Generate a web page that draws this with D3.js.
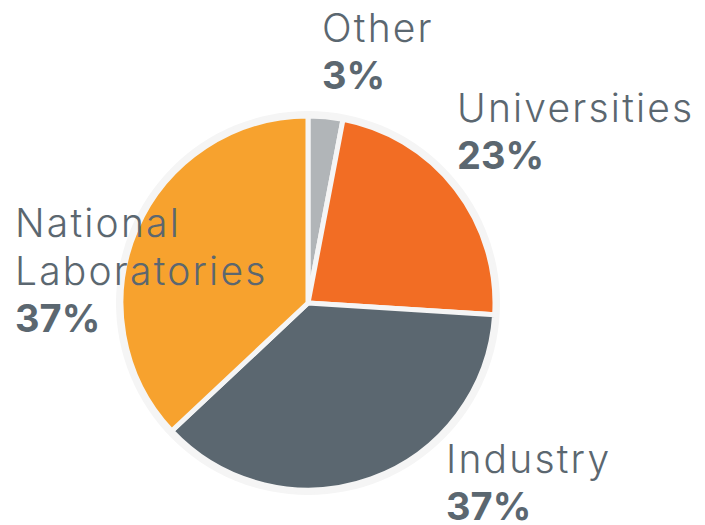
<!DOCTYPE html>
<html>
<head>
<meta charset="utf-8">
<script src="https://cdn.jsdelivr.net/npm/d3@7"></script>
<style>
  body { margin: 0; background: #fff; }
  text { font-family: "Inter", "Lato", sans-serif; fill: #5b6770; }
</style>
</head>
<body>
<div id="chart"></div>
<script>
var categories = ["Other", "Universities", "Industry", "National Laboratories"];
var values = [3, 23, 37, 37];
var colors = ["#b1b5b8", "#f26d24", "#5b6770", "#f7a22e"];
// label lines per category
var labelLines = [["Other"], ["Universities"], ["Industry"], ["National", "Laboratories"]];
var labelPos = [[322, 42], [457, 122], [446, 473], [15, 237]];

var width = 705,
    height = 525;

var svg = d3.select("#chart")
    .append("svg")
    .attr("width", width)
    .attr("height", height);

var data = categories.map(function (c, i) {
    return { name: c, value: values[i], color: colors[i], lines: labelLines[i], pos: labelPos[i] };
});

var cx = 308, cy = 303, radius = 187;

var g = svg.append("g")
    .attr("transform", "translate(" + cx + "," + cy + ")");

g.append("circle")
    .attr("r", radius + 5)
    .attr("fill", "#f5f5f5");

var pie = d3.pie()
    .sort(null)
    .value(function (d) { return d.value; });

var arc = d3.arc()
    .innerRadius(0)
    .outerRadius(radius);

g.selectAll(".slice")
    .data(pie(data))
    .enter().append("path")
    .attr("class", "slice")
    .attr("d", arc)
    .attr("fill", function (d) { return d.data.color; })
    .attr("stroke", "#f5f5f5")
    .attr("stroke-width", 5)
    .attr("stroke-linejoin", "round");

var labels = svg.selectAll(".label")
    .data(data)
    .enter().append("text")
    .attr("class", "label")
    .attr("x", function (d) { return d.pos[0]; })
    .attr("y", function (d) { return d.pos[1]; });

labels.each(function (d) {
    var t = d3.select(this);
    d.lines.forEach(function (line, i) {
        t.append("tspan")
            .attr("x", d.pos[0])
            .attr("dy", i === 0 ? 0 : 48)
            .attr("font-size", 39)
            .attr("font-weight", 300)
            .attr("letter-spacing", 2.2)
            .text(line);
    });
    t.append("tspan")
        .attr("x", d.pos[0])
        .attr("dy", 47)
        .attr("font-size", 38)
        .attr("font-weight", 700)
        .text(d.value + "%");
});
</script>
</body>
</html>
